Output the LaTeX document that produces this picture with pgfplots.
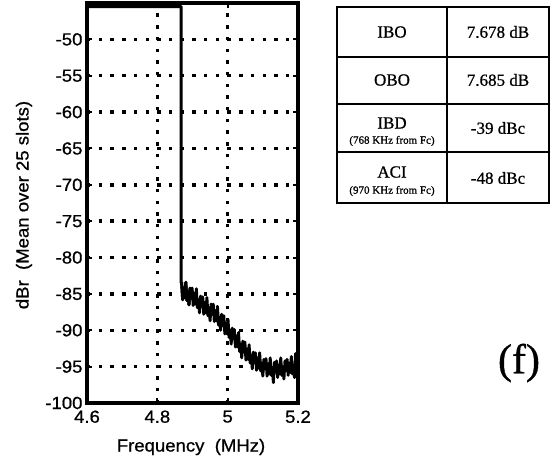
\documentclass[border=0pt]{standalone}
\usepackage{fontspec}
\setmainfont{Liberation Sans}[FakeStretch=1.06, FakeBold=0.8]
\newfontfamily\serif{Liberation Serif}[FakeBold=0.8]
\usepackage{pgfplots}
\pgfplotsset{compat=1.18}
\begin{document}
\begin{tikzpicture}[x=1pt,y=1pt]
\useasboundingbox (0,0) rectangle (556,463);
\begin{axis}[at={(87pt,60pt)}, anchor=south west, scale only axis,
  width=211pt, height=400pt,
  xmin=4.6, xmax=5.2, ymin=-100, ymax=-45,
  xtick={4.6,4.8,5,5.2}, xticklabels={4.6,4.8,5,5.2},
  ytick={-100,-95,-90,-85,-80,-75,-70,-65,-60,-55,-50},
  yticklabels={-100,-95,-90,-85,-80,-75,-70,-65,-60,-55,-50},
  grid=major,
  major grid style={line width=3.4pt, dash pattern=on 3.4pt off 8.3pt, line cap=butt, black},
  axis line style={line width=3.6pt},
  tick style={line width=2pt, black}, major tick length=5pt, tick align=inside,
  ticklabel style={font=\fontsize{17.5}{19}\selectfont},
  xticklabel style={yshift=-4pt},
  yticklabel style={xshift=-1pt},
  xlabel={Frequency\ \ (MHz)}, ylabel={dBr\ \ (Mean over 25 slots)},
  label style={font=\fontsize{17.5}{19}\selectfont},
  xlabel style={at={(axis description cs:0.493,-0.11)}, anchor=center},
  ylabel style={at={(axis description cs:-0.2986,0.495)}, anchor=center},
]
\addplot[black, line width=3pt, line join=round] coordinates {
(4.6,-45.5) (4.868,-45.5) (4.868,-83.5)
(4.869,-83.4) (4.872,-85.8) (4.875,-84.2) (4.878,-85.5) (4.881,-83.4)
(4.884,-85.9) (4.887,-84.8) (4.890,-86.5) (4.893,-84.2) (4.896,-85.6)
};
\addplot[black, line width=2.9pt, line join=round] coordinates {
(4.869,-83.4) (4.872,-85.8) (4.875,-84.2) (4.878,-85.5) (4.881,-83.4)
(4.884,-85.9) (4.887,-84.8) (4.890,-86.5) (4.893,-84.2) (4.896,-85.6)
(4.899,-84.2) (4.902,-86.6) (4.905,-85.0) (4.908,-86.4) (4.911,-84.3)
(4.914,-86.9) (4.917,-85.8) (4.920,-87.6) (4.923,-85.3) (4.926,-86.7)
(4.929,-85.4) (4.932,-87.8) (4.935,-86.2) (4.938,-87.6) (4.941,-85.5)
(4.944,-88.0) (4.947,-86.9) (4.950,-88.7) (4.953,-86.4) (4.956,-87.8)
(4.959,-86.4) (4.962,-88.8) (4.965,-87.3) (4.968,-88.7) (4.971,-86.7)
(4.974,-89.3) (4.977,-88.2) (4.980,-90.0) (4.983,-87.8) (4.986,-89.3)
(4.989,-88.0) (4.992,-90.5) (4.995,-89.0) (4.998,-90.5) (5.001,-88.5)
(5.004,-91.0) (5.007,-90.0) (5.010,-91.9) (5.013,-89.7) (5.016,-91.2)
(5.019,-89.9) (5.022,-92.3) (5.025,-90.8) (5.028,-92.3) (5.031,-90.3)
(5.034,-92.9) (5.037,-91.9) (5.040,-93.8) (5.043,-91.5) (5.046,-93.0)
(5.049,-91.6) (5.052,-94.1) (5.055,-92.6) (5.058,-94.0) (5.061,-92.0)
(5.064,-94.5) (5.067,-93.4) (5.070,-95.3) (5.073,-93.0) (5.076,-94.4)
(5.079,-93.1) (5.082,-95.5) (5.085,-93.8) (5.088,-95.2) (5.091,-93.1)
(5.094,-95.6) (5.097,-94.5) (5.100,-96.3) (5.103,-94.0) (5.106,-95.3)
(5.109,-93.9) (5.112,-96.3) (5.115,-94.6) (5.118,-96.0) (5.121,-93.8)
(5.124,-96.2) (5.127,-95.1) (5.130,-97.2) (5.133,-94.4) (5.136,-95.7)
(5.139,-94.2) (5.142,-96.5) (5.145,-94.8) (5.148,-96.0) (5.151,-93.8)
(5.154,-96.2) (5.157,-95.0) (5.160,-96.7) (5.163,-94.2) (5.166,-95.5)
(5.169,-94.0) (5.172,-96.2) (5.175,-94.5) (5.178,-95.8) (5.181,-93.6)
(5.184,-96.0) (5.187,-94.8) (5.190,-96.5) (5.193,-93.2) (5.196,-95.4)
(5.199,-93.5) (5.200,-97.0)
};
\end{axis}
% parameter table
\draw[line width=2pt] (337,456) rectangle (549,260);
\draw[line width=1.6pt] (447,456) -- (447,260);
\draw[line width=1.6pt] (337,406) -- (549,406) (337,359) -- (549,359) (337,311) -- (549,311);
\begin{scope}[every node/.style={font=\serif\fontsize{17}{19}\selectfont, inner sep=0pt}]
\node at (392,431) {IBO};
\node at (498,431) {7.678 dB};
\node at (392,383) {OBO};
\node at (498,383) {7.685 dB};
\node at (392,340) {IBD};
\node[font=\serif\fontsize{11}{12}\selectfont] at (392,322) {(768 KHz from Fc)};
\node at (498,335) {-39 dBc};
\node at (392,291) {ACI};
\node[font=\serif\fontsize{11}{12}\selectfont] at (392,272) {(970 KHz from Fc)};
\node at (498,285) {-48 dBc};
\end{scope}
\node[font=\serif\fontsize{42}{46}\selectfont, inner sep=0pt] at (519,100) {(f)};
\end{tikzpicture}
\end{document}
